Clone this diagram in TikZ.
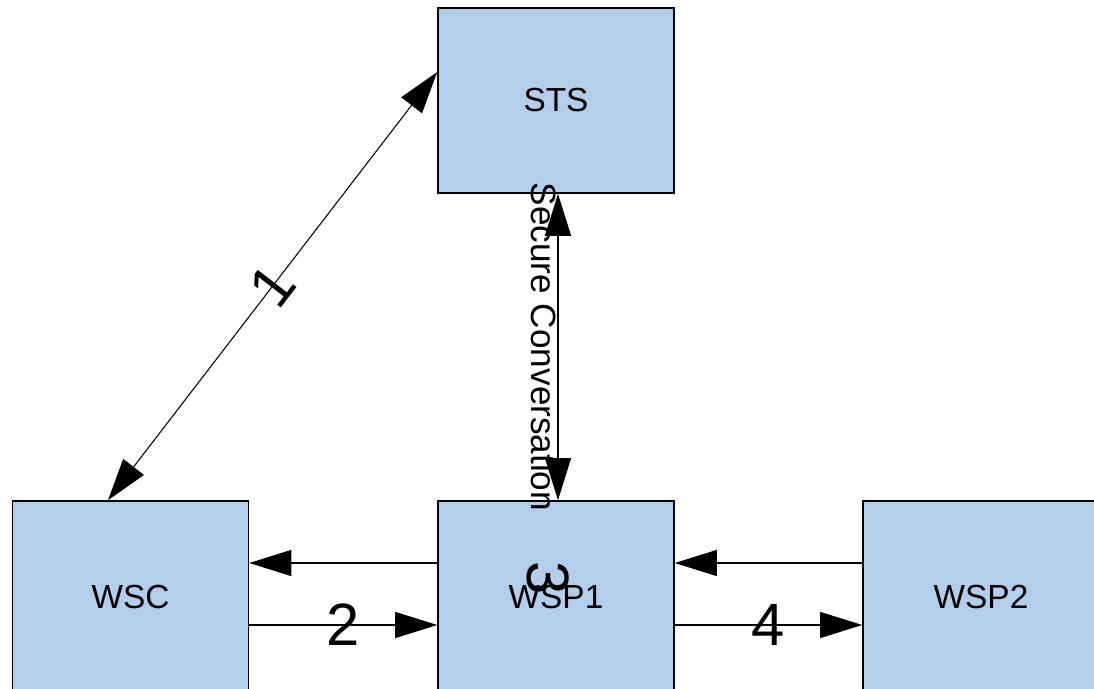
\documentclass[tikz,border=0pt]{standalone}
\usepackage{fontspec}
\setmainfont{Liberation Sans}
\usetikzlibrary{arrows.meta,positioning}
\definecolor{boxblue}{RGB}{180,205,234}
\tikzstyle{block} = [rectangle, draw=black, line width=0.9pt, fill=boxblue, minimum width=4.72cm, minimum height=3.7cm, inner sep=0pt, font=\fontsize{19}{23}\selectfont]
\tikzstyle{link} = [line width=0.6pt, {Triangle[length=0.84cm,width=0.52cm]}-{Triangle[length=0.84cm,width=0.52cm]}]
\tikzstyle{oneway} = [line width=0.6pt, -{Triangle[length=0.84cm,width=0.52cm]}]
\tikzstyle{num} = [font=\fontsize{34}{40}\selectfont, inner sep=0pt]

\begin{document}
\begin{tikzpicture}
      \clip (0,0) rectangle (21.88,13.76);
      \useasboundingbox (0,0) rectangle (21.88,13.76);
      \node[block] (sts) at (11.12,11.75) {STS};
      \node[block, minimum height=3.84cm] (wsc) at (2.61,1.82) {WSC};
      \node[block, minimum height=3.84cm] (wsp1) at (11.12,1.82) {WSP1};
      \node[block, minimum height=3.84cm] (wsp2) at (19.62,1.82) {WSP2};
      %token exchange with the STS
      \draw[link] ([xshift=-0.45cm]wsc.north) -- ([yshift=0.57cm]sts.west)
            node[num, midway, sloped] {1};
      \draw[link] ([xshift=0.04cm]sts.south) -- ([xshift=0.04cm]wsp1.north)
            node[midway, rotate=-90, anchor=north, inner sep=0.5pt, font=\fontsize{20}{24}\selectfont] {Secure Conversation};
      \node[num, rotate=-90] (lab3) at (10.96,2.2) {3};
      %requests and replies
      \draw[oneway] ([yshift=0.68cm]wsp1.west) -- ([yshift=0.68cm]wsc.east);
      \draw[oneway] ([yshift=-0.56cm]wsc.east) -- ([yshift=-0.56cm]wsp1.west)
            node[num, midway] {2};
      \draw[oneway] ([yshift=0.68cm]wsp2.west) -- ([yshift=0.68cm]wsp1.east);
      \draw[oneway] ([yshift=-0.56cm]wsp1.east) -- ([yshift=-0.56cm]wsp2.west)
            node[num, midway] {4};
\end{tikzpicture}
\end{document}
